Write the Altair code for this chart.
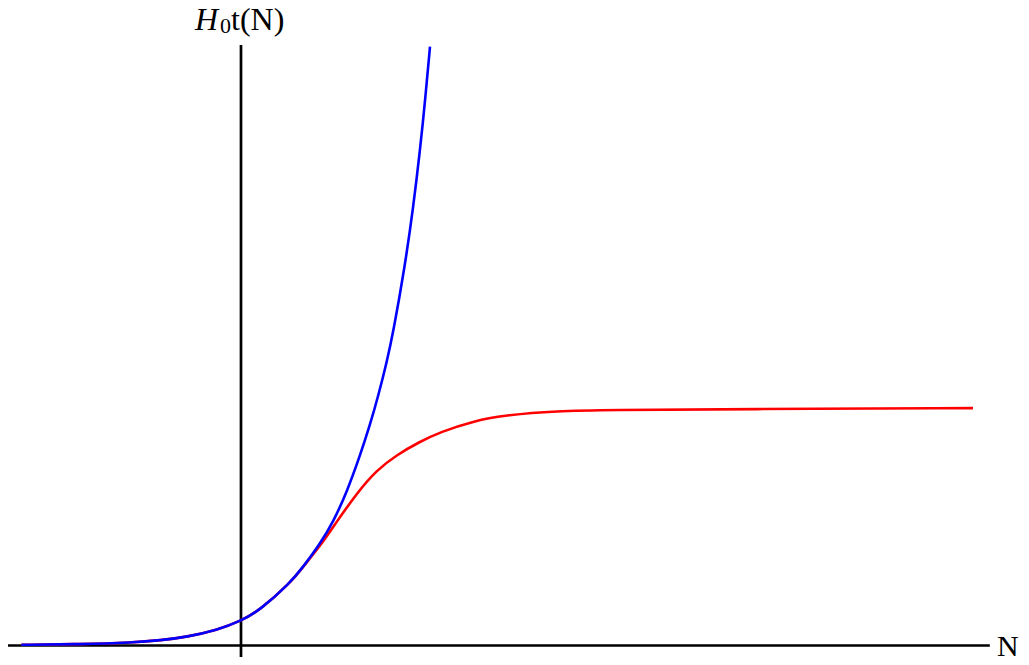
import altair as alt
import pandas as pd

# Blue curve (unbounded growth)
blue_N = [-3.0, -2.2, -1.475, -1.1, -0.738, -0.328, 0.0, 0.26, 0.669, 0.851, 1.079, 1.261,
          1.444, 1.626, 1.762, 1.876, 1.99, 2.081, 2.24, 2.354, 2.445, 2.514, 2.582]
blue_v = [0.03, 0.05, 0.12, 0.21, 0.35, 0.63, 1.0, 1.45, 2.54, 3.22, 4.15, 5.05,
          6.25, 7.75, 9.0, 10.2, 11.55, 12.8, 15.5, 17.9, 20.2, 22.2, 24.44]

# Red curve (saturating)
red_N = [-3.0, -2.2, -1.475, -1.1, -0.738, -0.328, 0.0, 0.26, 0.669, 0.851, 1.079, 1.307,
         1.581, 1.854, 2.127, 2.445, 2.72, 3.17, 3.63, 4.32, 5.0, 6.82, 10.0]
red_v = [0.03, 0.05, 0.12, 0.21, 0.35, 0.63, 1.0, 1.45, 2.54, 3.22, 4.05, 5.05,
         6.21, 7.16, 7.78, 8.32, 8.71, 9.16, 9.41, 9.57, 9.61, 9.65, 9.69]

x_domain = [-3.183, 10.656]
y_domain = [-0.469, 26.02]

blue_df = pd.DataFrame({"N": blue_N, "v": blue_v, "o": range(len(blue_N))})
red_df = pd.DataFrame({"N": red_N, "v": red_v, "o": range(len(red_N))})

xs = alt.Scale(domain=x_domain, nice=False, zero=False)
ys = alt.Scale(domain=y_domain, nice=False, zero=False)

xaxis_df = pd.DataFrame({"x": [x_domain[0]], "x2": [10.23], "y": [0.0]})
yaxis_df = pd.DataFrame({"x": [0.0], "y": [y_domain[0]], "y2": [24.51]})

xaxis = alt.Chart(xaxis_df).mark_rule(color="black", strokeWidth=2.7).encode(
    x=alt.X("x:Q", scale=xs, axis=None), x2="x2:Q",
    y=alt.Y("y:Q", scale=ys, axis=None))
yaxis = alt.Chart(yaxis_df).mark_rule(color="black", strokeWidth=2.7).encode(
    x=alt.X("x:Q", scale=xs, axis=None),
    y=alt.Y("y:Q", scale=ys, axis=None), y2="y2:Q")

red = alt.Chart(red_df).mark_line(color="#ff0000", strokeWidth=2.6, interpolate="basis").encode(
    x=alt.X("N:Q", scale=xs, axis=None), y=alt.Y("v:Q", scale=ys, axis=None), order="o:Q")
blue = alt.Chart(blue_df).mark_line(color="#0000ff", strokeWidth=2.6, interpolate="basis").encode(
    x=alt.X("N:Q", scale=xs, axis=None), y=alt.Y("v:Q", scale=ys, axis=None), order="o:Q")

font = "Liberation Serif"
lab_H = alt.Chart(pd.DataFrame({"t": ["H"]})).mark_text(
    font=font, fontSize=32, fontStyle="italic", align="left", baseline="alphabetic", color="black"
).encode(text="t:N", x=alt.value(187), y=alt.value(22))
lab_0 = alt.Chart(pd.DataFrame({"t": ["0"]})).mark_text(
    font=font, fontSize=22, align="left", baseline="alphabetic", color="black"
).encode(text="t:N", x=alt.value(212), y=alt.value(25))
lab_t = alt.Chart(pd.DataFrame({"t": ["t(N)"]})).mark_text(
    font=font, fontSize=32, align="left", baseline="alphabetic", color="black"
).encode(text="t:N", x=alt.value(223), y=alt.value(22))
lab_N = alt.Chart(pd.DataFrame({"t": ["N"]})).mark_text(
    font=font, fontSize=30, align="left", baseline="alphabetic", color="black"
).encode(text="t:N", x=alt.value(989), y=alt.value(648))

chart = alt.layer(xaxis, yaxis, red, blue, lab_H, lab_0, lab_t, lab_N).properties(
    width=1013, height=649, padding=0, autosize="none"
).configure_view(stroke=None)

chart.save("out.html", embed_options={"renderer": "svg", "actions": False})
